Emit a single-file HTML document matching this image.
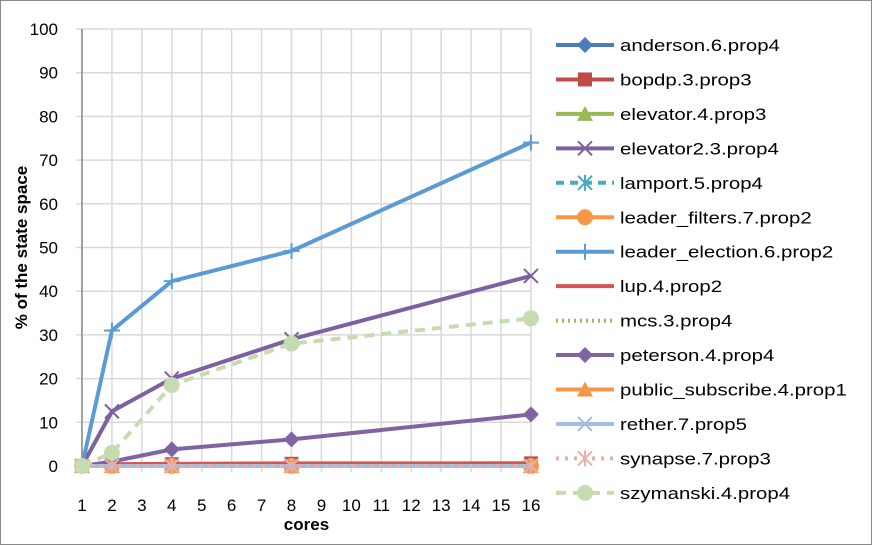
<!DOCTYPE html>
<html><head><meta charset="utf-8"><style>
body{margin:0;background:#fff}
svg{display:block;font-family:"Liberation Sans",sans-serif}
</style></head><body>
<svg id="c" width="872" height="545">
<rect x="0.5" y="0.5" width="871" height="544" fill="#fff" stroke="#888"/>
</svg>
<script>
const xCats=[1,2,4,8,16];
const xTicks=[1,2,3,4,5,6,7,8,9,10,11,12,13,14,15,16];
const yTicks=[0,10,20,30,40,50,60,70,80,90,100];
const names=["anderson.6.prop4","bopdp.3.prop3","elevator.4.prop3","elevator2.3.prop4","lamport.5.prop4","leader_filters.7.prop2","leader_election.6.prop2","lup.4.prop2","mcs.3.prop4","peterson.4.prop4","public_subscribe.4.prop1","rether.7.prop5","synapse.7.prop3","szymanski.4.prop4"];
const colors=["#4a7ebb","#be4b48","#98b954","#7d60a0","#46aac5","#f79646","#5b9bd5","#d9534f","#9bbb59","#8064a2","#f79646","#a5bce0","#e6b0aa","#c5dbb0"];
const markers=["diamond","square","triangle","x","star","circle","plus","none","none","diamond","triangle","x","star","circle"];
const dashes=["","","","","8,6","","","","2,4","","","","3,6","10,7"];
const s0=[0,0,0,0,0];
const s1=[0,0.3,0.4,0.5,0.6];
const s2=[0,0,0,0,0];
const s3=[0,12.5,20,29,43.5];
const s4=[0,0,0,0,0];
const s5=[0,0,0,0,0];
const s6=[0,31,42.3,49.2,74];
const s7=[0,0.4,0.5,0.6,0.6];
const s8=[0,0,0,0,0];
const s9=[0,1,3.8,6.1,11.8];
const s10=[0,0,0,0,0];
const s11=[0,0,0,0,0];
const s12=[0,0,0,0,0];
const s13=[0,3,18.5,28,33.8];
const series=[s0,s1,s2,s3,s4,s5,s6,s7,s8,s9,s10,s11,s12,s13];
const NS="http://www.w3.org/2000/svg",svg=document.getElementById('c');
const X=v=>82+(v-1)*29.93, Y=v=>466-v*4.37;
function el(t,a,p){const e=document.createElementNS(NS,t);for(const k in a)e.setAttribute(k,a[k]);(p||svg).appendChild(e);return e;}
for(const t of xTicks){const g=el('line',{x1:X(t),x2:X(t),y1:Y(100),y2:Y(0)+6,stroke:'#d9d9d9','stroke-width':1.5});


const tx=el('text',{x:X(t),y:511,'text-anchor':'middle','font-size':17,fill:'#000'});tx.textContent=t;

}
for(const t of yTicks){const g=el('line',{x1:X(1)-6,x2:X(16),y1:Y(t),y2:Y(t),stroke:'#d9d9d9','stroke-width':1.5});


const tx=el('text',{x:58,y:Y(t)+6,'text-anchor':'end','font-size':17});tx.textContent=t;

}
el('line',{x1:X(1),x2:X(1),y1:Y(100),y2:Y(0),stroke:'#888','stroke-width':1.5});
el('line',{x1:X(1),x2:X(16),y1:Y(0),y2:Y(0),stroke:'#888','stroke-width':1.5});
let t=el('text',{x:X(8.5),y:530,'text-anchor':'middle','font-size':17,'font-weight':'bold'});t.textContent='cores';


t=el('text',{x:0,y:0,'text-anchor':'middle','font-size':17,'font-weight':'bold',transform:'translate(27,'+Y(50)+') rotate(-90)'});t.textContent='% of the state space';


function marker(type,x,y,c,p){const s=8;
if(type==='diamond')el('polygon',{points:`${x},${y-s} ${x+s},${y} ${x},${y+s} ${x-s},${y}`,fill:c},p);
else if(type==='square')el('rect',{x:x-7,y:y-7,width:14,height:14,fill:c},p);
else if(type==='triangle')el('polygon',{points:`${x},${y-8} ${x+8},${y+7} ${x-8},${y+7}`,fill:c},p);
else if(type==='circle')el('circle',{cx:x,cy:y,r:8,fill:c},p);
else if(type==='x')el('path',{d:`M${x-7} ${y-7}L${x+7} ${y+7}M${x+7} ${y-7}L${x-7} ${y+7}`,stroke:c,'stroke-width':2,fill:'none'},p);
else if(type==='plus')el('path',{d:`M${x-8} ${y}L${x+8} ${y}M${x} ${y-8}L${x} ${y+8}`,stroke:c,'stroke-width':2,fill:'none'},p);
else if(type==='star')el('path',{d:`M${x-7} ${y-7}L${x+7} ${y+7}M${x+7} ${y-7}L${x-7} ${y+7}M${x} ${y-8}L${x} ${y+8}`,stroke:c,'stroke-width':2,fill:'none'},p);}
series.forEach((s,i)=>{const g=el('g',{});


el('polyline',{points:s.map((v,j)=>X(xCats[j])+','+Y(v)).join(' '),fill:'none',stroke:colors[i],'stroke-width':4,'stroke-dasharray':dashes[i],'stroke-linejoin':'round'},g);
s.forEach((v,j)=>marker(markers[i],X(xCats[j]),Y(v),colors[i],g));});
names.forEach((n,i)=>{const y=45+i*34.45;const g=el('g',{});


el('line',{x1:556,x2:614,y1:y,y2:y,stroke:colors[i],'stroke-width':4,'stroke-dasharray':dashes[i]},g);
marker(markers[i],585,y,colors[i],g);
const tx=el('text',{x:620,y:y+6,'font-size':17},g);tx.textContent=n;
const w=tx.getComputedTextLength();
tx.setAttribute('textLength',(w*1.2).toFixed(1));
tx.setAttribute('lengthAdjust','spacingAndGlyphs');});
</script>
</body></html>
